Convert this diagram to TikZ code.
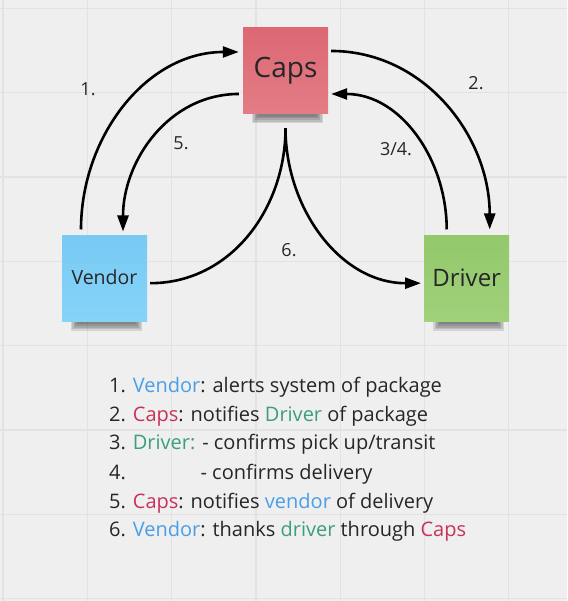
\documentclass[tikz,border=0pt]{standalone}
\usepackage{fontspec}
\setmainfont{Open Sans}
\usepackage{xcolor}
\usetikzlibrary{arrows.meta, backgrounds}

\definecolor{boardbg}{HTML}{EFEFEF}
\definecolor{gridline}{HTML}{E2E2E2}
\definecolor{inkdark}{HTML}{262626}
\definecolor{capsred}{HTML}{C8325A}
\definecolor{vendorblue}{HTML}{4A9EE8}
\definecolor{drivergreen}{HTML}{3D9E7A}
\definecolor{capstop}{HTML}{DC6874}
\definecolor{capsbot}{HTML}{E37D85}
\definecolor{vendortop}{HTML}{78CAF4}
\definecolor{vendorbot}{HTML}{86D3F8}
\definecolor{drivertop}{HTML}{93C86B}
\definecolor{driverbot}{HTML}{A0D17B}

\begin{document}
\begin{tikzpicture}[x=1pt, y=1pt,
    sticky/.style={minimum width=85pt, minimum height=86pt, inner sep=0pt, text=inkdark},
    flow/.style={line width=2.6pt, -{Triangle[length=16pt,width=11pt]}},
    steplabel/.style={text=inkdark, font=\fontsize{18}{22}\selectfont},
    legend/.style={text=inkdark, font=\fontsize{20}{24}\selectfont, inner sep=0pt, anchor=base west}]
    \useasboundingbox (0,0) rectangle (567,601);

    % the three sticky notes
    \node[sticky, top color=capstop, bottom color=capsbot, font=\fontsize{28}{32}\selectfont] (caps) at (285.5,530) {\raisebox{4pt}{Caps}};
    \node[sticky, top color=vendortop, bottom color=vendorbot, font=\fontsize{19.5}{24}\selectfont] (vendor) at (104.5,322.3) {\raisebox{3.5pt}{Vendor}};
    \node[sticky, top color=drivertop, bottom color=driverbot, font=\fontsize{24}{28}\selectfont] (driver) at (466.7,322.3) {\raisebox{2pt}{Driver}};

    % connectors
    \draw[flow] ([xshift=-23.5pt,yshift=6pt]vendor.north) to[out=90,in=180] ([xshift=-4pt,yshift=19pt]caps.west);
    \draw[flow] ([xshift=3pt,yshift=20pt]caps.east) to[out=0,in=90] ([xshift=23pt,yshift=6pt]driver.north);
    \draw[flow] ([xshift=-4pt,yshift=-23pt]caps.west) to[out=180,in=90] ([xshift=18.5pt,yshift=4pt]vendor.north);
    \draw[flow] ([xshift=-20pt,yshift=6pt]driver.north) to[out=90,in=0] ([xshift=3pt,yshift=-23pt]caps.east);
    \coordinate (peak) at ([yshift=-14pt]caps.south);
    \draw[flow] ([xshift=3pt,yshift=-4.5pt]vendor.east) to[out=0,in=-90] (peak) to[out=-90,in=180] ([xshift=-3pt,yshift=-4.5pt]driver.west);

    % step numbers
    \node[steplabel] (lab1) at (88,512) {1.};
    \node[steplabel] (lab2) at (476,518) {2.};
    \node[steplabel] (lab5) at (181,458) {5.};
    \node[steplabel] (lab34) at (396,452) {3/4.};
    \node[steplabel] (lab6) at (289,351) {6.};

    % legend
    \foreach \yy/\txt [count=\i] in {
        208/{1. \textcolor{vendorblue}{Vendor}: alerts system of package},
        179/{2. \textcolor{capsred}{Caps}: notifies \textcolor{drivergreen}{Driver} of package},
        151/{3. \textcolor{drivergreen}{Driver:} - confirms pick up/transit},
        121/{4. \phantom{Driver:} - confirms delivery},
        92/{5. \textcolor{capsred}{Caps}: notifies \textcolor{vendorblue}{vendor} of delivery},
        64/{6. \textcolor{vendorblue}{Vendor}: thanks \textcolor{drivergreen}{driver} through \textcolor{capsred}{Caps}}}
        \node[legend] (line\i) at (109,\yy) {\txt};

    \begin{scope}[on background layer]
        \fill[boardbg] (0,0) rectangle (567,601);
        \foreach \gx in {3,87.3,...,560}
            \draw[gridline, line width=1.3pt] (\gx,0) -- (\gx,601);
        \foreach \gy in {2.4,86.7,...,600}
            \draw[gridline, line width=1.3pt] (0,\gy) -- (567,\gy);
        % soft shadows under the notes
        \foreach \n in {caps,vendor,driver}
            \foreach \k in {0,...,4}
                \fill[black, opacity=0.11] ([xshift={(9+1.5*\k)*1pt}]\n.south west) rectangle ([xshift={(-5-1.5*\k)*1pt},yshift={(-9+1.6*\k)*1pt}]\n.south east);
    \end{scope}
\end{tikzpicture}
\end{document}
